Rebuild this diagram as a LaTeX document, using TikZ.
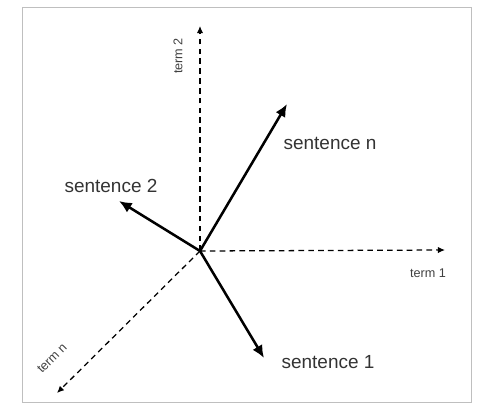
\documentclass[tikz,border=0pt]{standalone}
\usepackage{fontspec}
\setmainfont{Liberation Sans}
\usetikzlibrary{positioning, arrows.meta}

\begin{document}
\begin{tikzpicture}[
    x=0.025cm, y=-0.025cm,
    axis/.style={dashed, dash pattern=on 4pt off 3pt, line width=0.9pt, -{Latex[length=5pt, width=4.5pt]}},
    vec/.style={line width=1.8pt, -{Latex[length=9pt, width=8pt]}},
    sent/.style={font=\fontsize{13.5}{15}\selectfont, text=black!80},
    term/.style={font=\fontsize{9}{10}\selectfont, text=black!75},
]
\useasboundingbox (0,0) rectangle (484,406);
\draw[black!25, line width=0.6pt] (22,7) -- (471,7) -- (471,402) -- (22,402) -- cycle;

\coordinate (o)  at (200,251);
\coordinate (t1) at (445,250);
\coordinate (t2) at (200,26);
\coordinate (tn) at (57,393);

\draw[axis] (o) -- (t1);
\draw[axis] (o) -- (t2);
\draw[axis] (o) -- (tn);

\coordinate (s1) at (264,358);
\coordinate (s2) at (119,201);
\coordinate (sn) at (287,104);

\draw[vec] (o) -- (s1);
\draw[vec] (o) -- (s2);
\draw[vec] (o) -- (sn);

\node[sent] (ls1) at (328,362) {sentence 1};
\node[sent] (ls2) at (111,186) {sentence 2};
\node[sent] (lsn) at (330,143) {sentence n};

\node[term] (lt1) at (428,273) {term 1};
\node[term, rotate=90] (lt2) at (178,56) {term 2};
\node[term, rotate=45] (ltn) at (52,358) {term n};
\end{tikzpicture}
\end{document}
